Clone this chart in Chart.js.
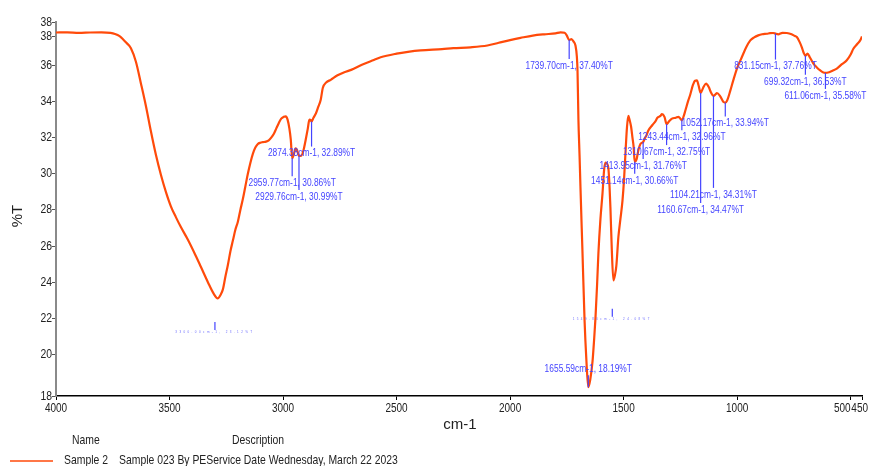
<!DOCTYPE html>
<html>
<head>
<meta charset="utf-8">
<title>Sample 2 IR spectrum</title>
<script src="https://cdn.jsdelivr.net/npm/chart.js@4.4.1/dist/chart.umd.min.js"></script>
<style>
  html,body{margin:0;padding:0;background:#fff;}
  #wrap{width:869px;height:466px;}
</style>
</head>
<body>
<div id="wrap"><canvas id="spectrum" width="869" height="466"></canvas></div>
<script>
// spectrum (cm-1, %T)
const wavenumbers = [4000,3950,3900,3850,3800,3760,3740,3720,3705,3690,3670,3648,3626,3604,3582,3560,3538,3516,3494,3472,3450,3419,3384,3362,3331,3305,3288,3275,3265,3254,3243,3232,3221,3210,3199,3188,3177,3166,3155,3144,3133,3122,3111,3100,3089,3075,3063,3052,3041,3030,3019,3008,2997,2988,2980,2972,2966,2959.77,2952,2945,2938,2929.76,2920,2910,2900,2891,2884,2879,2874.38,2866,2855,2845,2834,2825,2810,2790,2760,2730,2700,2650,2600,2570,2500,2450,2394,2300,2250,2174,2100,2050,2000,1954,1900,1850,1800,1778,1760,1750,1739.7,1730,1721,1712,1706,1703,1699,1694,1690,1681,1672,1664,1655.59,1647,1637,1630,1624,1617,1611,1602,1593,1586,1580,1573,1567,1562,1558,1552,1545,1538,1532,1523,1514,1505,1498,1492,1485,1479,1474,1467,1461,1456,1451.14,1443,1435,1426,1413.95,1405,1400,1391,1373,1360,1351,1338,1331,1320,1310.67,1300,1287,1270,1258,1250,1243.44,1235,1228,1215,1206,1195,1185,1177,1170,1160.67,1150,1137,1125,1115,1104.21,1095,1089,1075,1060,1052.17,1044,1030,1017,1000,979,960,942,925,907,890,869,855,841,831.15,819,800,781,760,745,737,725,715,707,699.32,690,680,664,650,634,620,611.06,595,580,561,540,517,500,488,470,458,450];
const transmittance = [37.82,37.83,37.80,37.82,37.83,37.80,37.74,37.62,37.45,37.25,36.95,36.2,35.0,33.75,32.35,31.05,29.95,29.0,28.2,27.6,27.05,26.35,25.45,24.85,24.0,23.35,23.10,23.3,23.6,24.3,24.95,25.7,26.3,26.9,27.35,28.0,28.6,29.3,30.0,30.6,31.1,31.45,31.65,31.72,31.75,31.78,31.85,32.0,32.2,32.5,32.8,33.05,33.15,33.18,33.0,32.5,31.9,30.86,31.1,31.4,31.3,30.99,31.0,31.3,31.9,32.5,33.0,32.98,32.89,33.1,33.35,33.7,34.1,34.75,35.05,35.2,35.45,35.62,35.75,36.05,36.3,36.45,36.65,36.75,36.83,36.9,36.95,37.0,37.1,37.25,37.4,37.52,37.65,37.72,37.77,37.83,37.8,37.65,37.40,37.45,37.33,37.1,36.5,35.7,33.0,31.0,29.25,25.6,21.9,19.7,18.19,18.6,19.6,20.8,22.0,23.8,25.6,27.5,28.9,30.2,30.62,30.55,30.3,29.3,28.1,25.8,24.1,24.4,24.9,26.5,27.5,28.5,29.7,31.1,32.6,33.2,33.0,32.6,32.0,31.5,30.66,30.8,31.3,31.65,31.76,32.0,32.1,32.4,32.7,32.9,33.1,33.2,33.3,33.15,32.75,32.9,33.05,33.1,33.15,33.05,32.96,33.2,33.5,34.06,34.4,34.9,35.15,35.17,34.9,34.47,34.75,34.99,34.8,34.5,34.31,34.4,34.47,34.3,33.97,33.94,34.06,34.6,35.17,35.85,36.46,37.0,37.38,37.55,37.66,37.72,37.75,37.78,37.79,37.76,37.72,37.8,37.79,37.72,37.62,37.57,37.3,37.0,36.7,36.53,36.65,36.45,36.1,35.9,35.72,35.6,35.58,35.62,35.7,35.82,36.05,36.28,36.6,36.92,37.2,37.38,37.6];

// picked peaks
const peakWn = [2959.77,2929.76,2874.38,1739.70,1655.59,1451.14,1413.95,1310.67,1243.44,1160.67,1104.21,1052.17,831.15,699.32,611.06];
const peakT = [30.86,30.99,32.89,37.40,18.19,30.66,31.76,32.75,32.96,34.47,34.31,33.94,37.76,36.53,35.58];
// peaks whose labels print as dots
const minorPeakWn = [3300.00,1549.80];
const minorPeakT = [23.12,24.08];

const xTicks = [4000,3500,3000,2500,2000,1500,1000,500,450];
const yTicks = [17.7,20,22,24,26,28,30,32,34,36,37.6,38.4];
const xRange = [450,4000];
const yRange = [17.7,38.4];

const legendName = 'Sample 2';
const legendDesc = 'Sample 023 By PEService Date Wednesday, March 22 2023';

// layout: label centre distance below the peak point (px), negative = above
const peakLabelGap = [25,41,32,26,-18,19,24,28,17,117,99,21,33,26,23];
const minorLabelGap = [34,38];

const LINE = '#ff4a0a';
const BLUE = '#4444ff';
const INK = '#222';
const SANS = "'Liberation Sans',Arial,sans-serif";
const SQUEEZE = 0.8;   // Arial Narrow look

const $ = (id) => document.getElementById(id);
const points = wavenumbers.map((x,i) => ({x, y: transmittance[i]}));
const peakText = (wn,t) => `${wn.toFixed(2)}cm-1, ${t.toFixed(2)}%T`;

function narrowText(ctx, text, x, y, align){
  ctx.save();
  ctx.translate(x, y);
  ctx.scale(SQUEEZE, 1);
  ctx.textAlign = align;
  ctx.fillText(text, 0, 0);
  ctx.restore();
}

const peakPlugin = {
  id: 'peaks',
  afterDatasetsDraw(chart){
    const {ctx, scales:{x, y}} = chart;
    ctx.save();
    ctx.strokeStyle = BLUE;
    ctx.fillStyle = BLUE;
    ctx.lineWidth = 1.2;
    ctx.textBaseline = 'middle';
    ctx.font = `10.5px ${SANS}`;
    peakWn.forEach((wn,i) => {
      const px = x.getPixelForValue(wn);
      const py = y.getPixelForValue(peakT[i]);
      const gap = peakLabelGap[i];
      const ty = py + gap;
      ctx.beginPath();
      if(gap > 0){ ctx.moveTo(px, py); ctx.lineTo(px, ty - 7); }
      else { ctx.moveTo(px, ty + 6); ctx.lineTo(px, py); }
      ctx.stroke();
      narrowText(ctx, peakText(wn, peakT[i]), px, ty, 'center');
    });
    ctx.font = `3px ${SANS}`;
    ctx.letterSpacing = '2.4px';
    ctx.fillStyle = '#6b6bff';
    minorPeakWn.forEach((wn,i) => {
      const px = x.getPixelForValue(wn);
      const ty = y.getPixelForValue(minorPeakT[i]) + minorLabelGap[i];
      ctx.beginPath();
      ctx.moveTo(px, ty - 10); ctx.lineTo(px, ty - 2);
      ctx.stroke();
      ctx.textAlign = 'center';
      ctx.fillText(peakText(wn, minorPeakT[i]), px, ty);
    });
    ctx.restore();
  },
  afterDraw(chart){
    const {ctx, scales:{x, y}, chartArea} = chart;
    const W = chart.width;
    ctx.save();
    ctx.fillStyle = INK;
    // x tick labels, 500 pushed left so it does not run into 450
    ctx.font = `12.5px ${SANS}`;
    ctx.textBaseline = 'top';
    xTicks.forEach(v => {
      const px = x.getPixelForValue(v);
      const w = ctx.measureText(String(v)).width * SQUEEZE;
      let left = v === 500 ? px - w : px - w/2;
      if(left + w > W - 1) left = W - 1 - w;
      narrowText(ctx, String(v), left, chartArea.bottom + 6, 'left');
    });
    // y tick labels
    ctx.font = `13px ${SANS}`;
    ctx.textBaseline = 'middle';
    yTicks.forEach(v => {
      narrowText(ctx, String(Math.round(v)), chartArea.left - 4, y.getPixelForValue(v), 'right');
    });
    // axis titles
    ctx.font = `15px ${SANS}`;
    ctx.textAlign = 'center';
    ctx.fillText('cm-1', 460, 425);
    ctx.save();
    ctx.translate(18, 216);
    ctx.rotate(-Math.PI/2);
    ctx.fillText('%T', 0, 0);
    ctx.restore();
    // legend table
    ctx.font = `13px ${SANS}`;
    narrowText(ctx, 'Name', 72, 440, 'left');
    narrowText(ctx, 'Description', 232, 440, 'left');
    narrowText(ctx, legendName, 64, 460, 'left');
    narrowText(ctx, legendDesc, 119, 460, 'left');
    ctx.strokeStyle = LINE;
    ctx.lineWidth = 1.5;
    ctx.beginPath();
    ctx.moveTo(10, 461); ctx.lineTo(53, 461);
    ctx.stroke();
    ctx.restore();
  }
};

new Chart($('spectrum'), {
  type: 'line',
  data: {datasets: [{
    label: legendName,
    data: points,
    borderColor: LINE,
    borderWidth: 2.2,
    pointRadius: 0,
    fill: false,
    cubicInterpolationMode: 'monotone'
  }]},
  options: {
    responsive: false,
    animation: false,
    events: [],
    layout: {padding: {top: 22, right: 7, left: 0, bottom: 0}},
    plugins: {legend: {display: false}, tooltip: {enabled: false}},
    scales: {
      x: {
        type: 'linear', reverse: true, min: xRange[0], max: xRange[1],
        afterBuildTicks: (s) => { s.ticks = xTicks.map(v => ({value: v})); },
        afterFit: (s) => { s.height = 70; },
        ticks: {display: false},
        grid: {display: true, drawOnChartArea: false, drawTicks: true, tickLength: 4, color: '#000', lineWidth: 1},
        border: {display: true, color: '#000', width: 1.5}
      },
      y: {
        type: 'linear', min: yRange[0], max: yRange[1],
        afterBuildTicks: (s) => { s.ticks = yTicks.map(v => ({value: v})); },
        afterFit: (s) => { s.width = 56; },
        ticks: {display: false},
        grid: {display: true, drawOnChartArea: false, drawTicks: true, tickLength: 4, color: '#555', lineWidth: 1},
        border: {display: true, color: '#8a8a8a', width: 2}
      }
    }
  },
  plugins: [peakPlugin]
});
</script>
</body>
</html>
